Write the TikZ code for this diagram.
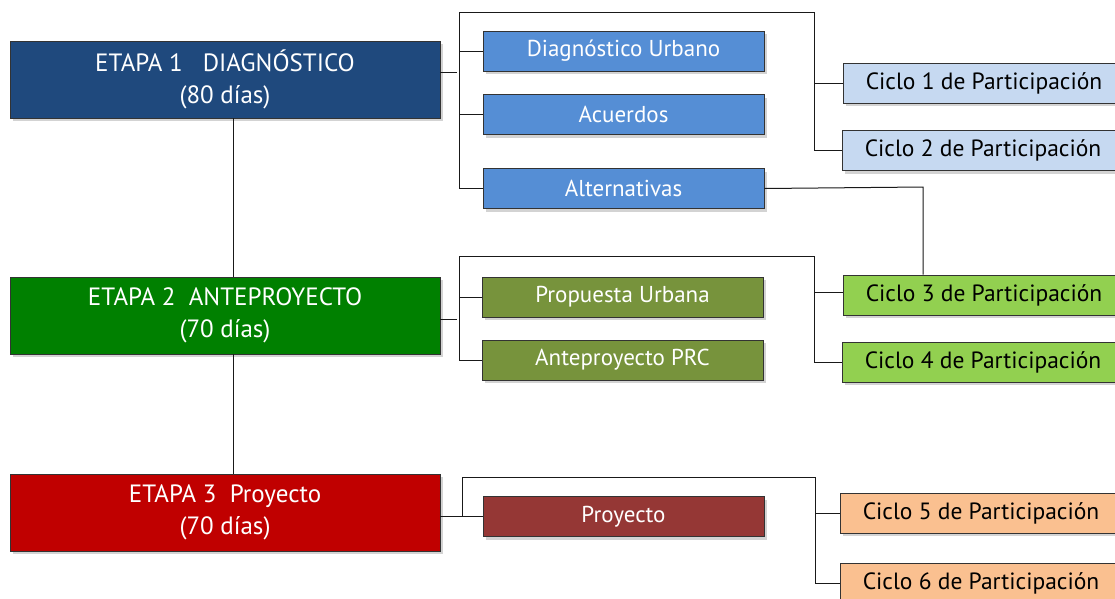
\documentclass[tikz,border=0pt]{standalone}
\usepackage{fontspec}
\setmainfont{PT Sans}
\usetikzlibrary{shadows}

\definecolor{etapaazul}{RGB}{31,73,125}
\definecolor{etapaverde}{RGB}{0,128,0}
\definecolor{etaparoja}{RGB}{192,0,0}
\definecolor{tareaazul}{RGB}{85,142,213}
\definecolor{tareaverde}{RGB}{119,147,60}
\definecolor{tarearoja}{RGB}{149,55,53}
\definecolor{cicloazul}{RGB}{198,217,241}
\definecolor{cicloverde}{RGB}{146,208,80}
\definecolor{ciclonaranja}{RGB}{250,192,144}

\tikzset{
	caja/.style={draw=black!80,line width=0.9pt,
		drop shadow={shadow xshift=3pt,shadow yshift=-3pt,opacity=0.35}},
	etapa/.style={caja,minimum width=430pt,minimum height=77pt,
		text=white,align=center,font=\fontsize{25}{32}\selectfont},
	tarea/.style={caja,minimum width=281pt,minimum height=40pt,
		text=white,font=\fontsize{23}{26}\selectfont},
	ciclo/.style={caja,minimum width=282pt,minimum height=40pt,
		text=black,font=\fontsize{23.5}{26}\selectfont},
	linea/.style={draw=black!90,line width=1pt}
}

\begin{document}
\begin{tikzpicture}[x=1pt,y=-1pt]

\def\bogenbreite{1115}
\def\bogenhoehe{598}

\useasboundingbox (0,0) rectangle ({\bogenbreite},{\bogenhoehe});
\clip (0,0) rectangle ({\bogenbreite},{\bogenhoehe});

\node (etapa1) at (225,79.5) [etapa,fill=etapaazul]
	{ETAPA 1\ \ \ DIAGNÓSTICO\\(80 días)};
\node (etapa2) at (225,315.5) [etapa,fill=etapaverde]
	{ETAPA 2\ \ ANTEPROYECTO\\(70 días)};
\node (etapa3) at (225,512.5) [etapa,fill=etaparoja]
	{ETAPA 3\ \ Proyecto\\(70 días)};

\node (diag) at (623.5,51) [tarea,fill=tareaazul] {Diagnóstico Urbano};
\node (acu) at (623.5,114.5) [tarea,fill=tareaazul] {Acuerdos};
\node (alt) at (623.5,188.5) [tarea,fill=tareaazul] {Alternativas};
\node (prop) at (622.5,297) [tarea,fill=tareaverde] {Propuesta Urbana};
\node (prc) at (622.5,360) [tarea,fill=tareaverde] {Anteproyecto PRC};
\node (proy) at (623.5,516.5) [tarea,fill=tarearoja] {Proyecto};

\node (c1) at (984,83) [ciclo,fill=cicloazul] {Ciclo 1 de Participación};
\node (c2) at (983,150.5) [ciclo,fill=cicloazul] {Ciclo 2 de Participación};
\node (c3) at (984,295) [ciclo,fill=cicloverde] {Ciclo 3 de Participación};
\node (c4) at (983,362) [ciclo,fill=cicloverde] {Ciclo 4 de Participación};
\node (c5) at (981,513) [ciclo,fill=ciclonaranja] {Ciclo 5 de Participación};
\node (c6) at (981,583) [ciclo,fill=ciclonaranja] {Ciclo 6 de Participación};

\coordinate (ka1) at (459,12);
\coordinate (kb1) at (814,12);
\coordinate (ka2) at (459,256);
\coordinate (kb2) at (814,256);
\coordinate (ka3) at (462,477);
\coordinate (kb3) at (815,477);
\coordinate (kc) at (923,187);

\draw[linea] ([xshift=8pt]etapa1.south) -- ([xshift=8pt]etapa2.north);
\draw[linea] ([xshift=8pt]etapa2.south) -- ([xshift=8pt]etapa3.north);

\draw[linea] ([yshift=7.5pt]etapa1.east) -- ++(17,0);
\draw[linea] (alt.west) -| (ka1) -- (kb1) |- (c2.west);
\draw[linea] (diag.west) -- (diag.west -| ka1);
\draw[linea] (acu.west) -- (acu.west -| ka1);
\draw[linea] (c1.west) -- (c1.west -| kb1);
\draw[linea] (alt.east) -- (kc) -- (kc |- c3.north);

\draw[linea] ([yshift=-3.5pt]etapa2.east) -- ++(17,0);
\draw[linea] (prc.west) -| (ka2) -- (kb2) |- (c4.west);
\draw[linea] (prop.west) -- (prop.west -| ka2);
\draw[linea] ([yshift=3pt]c3.west) -- ([yshift=3pt]c3.west -| kb2);

\draw[linea] (etapa3.east |- proy.west) -- (proy.west);
\draw[linea] (proy.west -| ka3) -- (ka3) -- (kb3) |- (c6.west);
\draw[linea] (c5.west) -- (c5.west -| kb3);

\end{tikzpicture}
\end{document}
